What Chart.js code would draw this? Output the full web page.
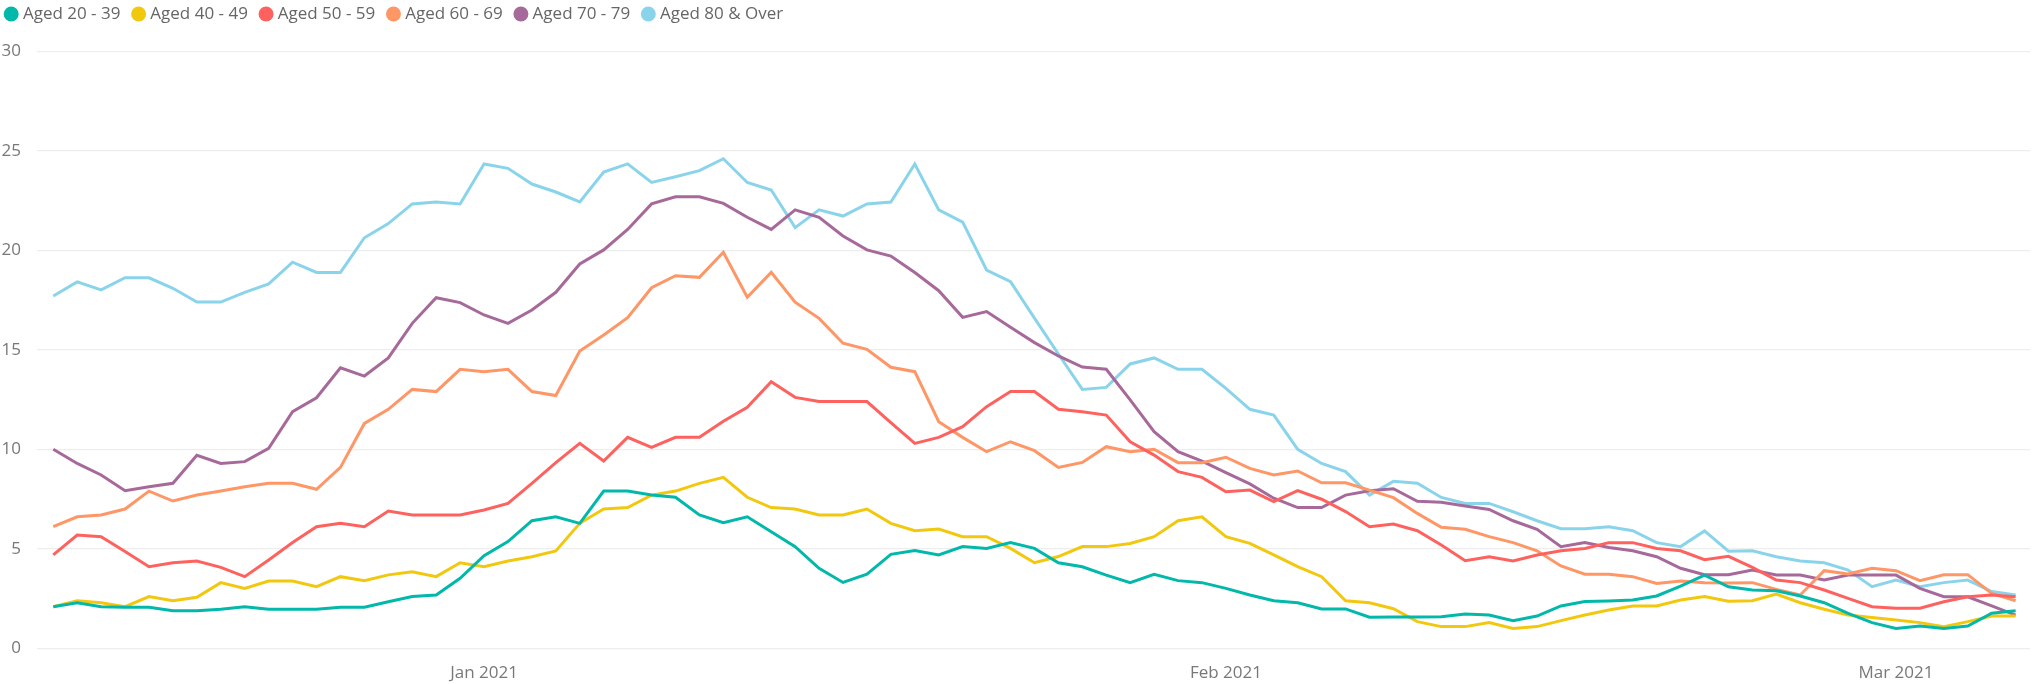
<!DOCTYPE html>
<html>
<head>
<meta charset="utf-8">
<title>Aged groups</title>
<script src="https://cdn.jsdelivr.net/npm/chart.js@4/dist/chart.umd.min.js"></script>
<style>
  body { margin: 0; background: #fff; }
</style>
</head>
<body>
<canvas id="chart" width="2038" height="684"></canvas>
<script>
// one point per day, 14 Dec 2020 - 6 Mar 2021
const firstDay = '2020-12-14';
const dayCount = 83;
const monthStarts = ['2021-01-01', '2021-02-01', '2021-03-01'];
const monthLabels = ['Jan 2021', 'Feb 2021', 'Mar 2021'];

const groupNames = ['Aged 20 - 39', 'Aged 40 - 49', 'Aged 50 - 59', 'Aged 60 - 69', 'Aged 70 - 79', 'Aged 80 & Over'];
const groupColors = ['#01B8AA', '#F2C80F', '#FD625E', '#FE9666', '#A66999', '#8AD4EB'];

const aged20to39 = [
  2.1, 2.3, 2.1, 2.07, 2.07, 1.9, 1.9, 1.97, 2.1, 1.97,
  1.97, 1.97, 2.07, 2.07, 2.35, 2.61, 2.69, 3.53, 4.66, 5.37,
  6.42, 6.62, 6.29, 7.91, 7.91, 7.71, 7.6, 6.71, 6.32, 6.62,
  5.87, 5.12, 4.03, 3.32, 3.73, 4.73, 4.92, 4.7, 5.12, 5.03,
  5.32, 5.03, 4.31, 4.11, 3.69, 3.31, 3.73, 3.41, 3.31, 3.02,
  2.69, 2.4, 2.3, 1.99, 1.99, 1.57, 1.58, 1.58, 1.6, 1.73,
  1.68, 1.4, 1.63, 2.14, 2.36, 2.39, 2.44, 2.64, 3.14, 3.69,
  3.1, 2.94, 2.9, 2.64, 2.3, 1.77, 1.3, 1.01, 1.13, 1.01,
  1.13, 1.77, 1.9
];
const aged40to49 = [
  2.1, 2.4, 2.3, 2.1, 2.61, 2.4, 2.57, 3.31, 3.02, 3.39,
  3.39, 3.11, 3.61, 3.41, 3.7, 3.86, 3.61, 4.31, 4.11, 4.4,
  4.61, 4.9, 6.29, 7.01, 7.08, 7.71, 7.91, 8.3, 8.6, 7.6,
  7.08, 7.01, 6.71, 6.71, 7.01, 6.29, 5.92, 6.0, 5.62, 5.62,
  5.03, 4.31, 4.62, 5.12, 5.12, 5.28, 5.62, 6.42, 6.62, 5.62,
  5.28, 4.7, 4.11, 3.61, 2.4, 2.3, 2.0, 1.35, 1.1, 1.1,
  1.3, 1.01, 1.1, 1.4, 1.68, 1.93, 2.14, 2.14, 2.44, 2.61,
  2.38, 2.4, 2.74, 2.3, 1.97, 1.68, 1.56, 1.43, 1.3, 1.1,
  1.35, 1.63, 1.63
];
const aged50to59 = [
  4.7, 5.7, 5.62, 4.87, 4.11, 4.31, 4.4, 4.08, 3.61, 4.45,
  5.33, 6.12, 6.29, 6.12, 6.91, 6.71, 6.71, 6.71, 6.96, 7.29,
  8.3, 9.34, 10.31, 9.42, 10.61, 10.11, 10.61, 10.61, 11.42, 12.12,
  13.41, 12.62, 12.41, 12.41, 12.41, 11.35, 10.31, 10.61, 11.15, 12.15,
  12.91, 12.91, 12.02, 11.9, 11.73, 10.39, 9.72, 8.89, 8.6, 7.88,
  7.96, 7.38, 7.93, 7.5, 6.88, 6.12, 6.25, 5.92, 5.2, 4.41,
  4.61, 4.4, 4.7, 4.91, 5.03, 5.32, 5.32, 5.03, 4.91, 4.46,
  4.63, 4.08, 3.44, 3.31, 2.94, 2.52, 2.1, 2.02, 2.02, 2.35,
  2.6, 2.69, 2.6
];
const aged60to69 = [
  6.12, 6.62, 6.71, 7.01, 7.91, 7.41, 7.71, 7.91, 8.13, 8.3,
  8.3, 8.0, 9.1, 11.31, 12.02, 13.02, 12.91, 14.03, 13.91, 14.03,
  12.91, 12.71, 14.95, 15.75, 16.62, 18.13, 18.73, 18.65, 19.91, 17.65,
  18.9, 17.4, 16.59, 15.34, 15.03, 14.13, 13.91, 11.4, 10.61, 9.89,
  10.39, 9.94, 9.1, 9.35, 10.14, 9.89, 10.01, 9.34, 9.34, 9.61,
  9.05, 8.72, 8.92, 8.33, 8.33, 7.96, 7.58, 6.79, 6.09, 5.99,
  5.62, 5.32, 4.91, 4.15, 3.73, 3.73, 3.61, 3.27, 3.39, 3.31,
  3.29, 3.31, 2.97, 2.69, 3.91, 3.74, 4.03, 3.91, 3.41, 3.71,
  3.71, 2.77, 2.4
];
const aged70to79 = [
  10.01, 9.3, 8.72, 7.93, 8.13, 8.3, 9.71, 9.3, 9.39, 10.06,
  11.9, 12.6, 14.11, 13.69, 14.6, 16.34, 17.63, 17.38, 16.76, 16.34,
  17.01, 17.9, 19.32, 20.03, 21.06, 22.34, 22.7, 22.7, 22.37, 21.67,
  21.06, 22.04, 21.67, 20.73, 20.03, 19.72, 18.89, 17.98, 16.64, 16.93,
  16.14, 15.37, 14.7, 14.14, 14.03, 12.49, 10.9, 9.89, 9.42, 8.84,
  8.27, 7.55, 7.08, 7.08, 7.71, 7.93, 8.03, 7.4, 7.35, 7.16,
  6.99, 6.42, 5.99, 5.12, 5.32, 5.08, 4.91, 4.61, 4.03, 3.71,
  3.71, 3.94, 3.69, 3.69, 3.44, 3.69, 3.69, 3.69, 3.02, 2.6,
  2.6, 2.14, 1.68
];
const aged80plus = [
  17.71, 18.42, 18.02, 18.63, 18.63, 18.1, 17.41, 17.41, 17.9, 18.32,
  19.41, 18.9, 18.9, 20.64, 21.35, 22.34, 22.44, 22.34, 24.35, 24.13,
  23.34, 22.94, 22.44, 23.94, 24.35, 23.42, 23.71, 24.01, 24.61, 23.42,
  23.04, 21.15, 22.04, 21.73, 22.34, 22.44, 24.35, 22.04, 21.43, 19.02,
  18.43, 16.6, 14.8, 13.02, 13.12, 14.3, 14.6, 14.03, 14.03, 13.07,
  12.02, 11.73, 10.01, 9.3, 8.89, 7.71, 8.4, 8.31, 7.59, 7.29,
  7.29, 6.87, 6.42, 6.02, 6.02, 6.12, 5.92, 5.32, 5.12, 5.91,
  4.89, 4.91, 4.61, 4.4, 4.31, 3.94, 3.11, 3.44, 3.11, 3.31,
  3.44, 2.86, 2.69
];
const groupValues = [aged20to39, aged40to49, aged50to59, aged60to69, aged70to79, aged80plus];

// day strings for the x positions
const days = [];
for (let i = 0; i < dayCount; i++) {
  let d = new Date(firstDay + 'T00:00:00Z');
  d.setUTCDate(d.getUTCDate() + i);
  days.push(d.toISOString().slice(0, 10));
}

Chart.defaults.font.family = "'Open Sans', sans-serif";
Chart.defaults.font.size = 17;
Chart.defaults.color = '#787878';

// push the plot area down below the legend
const legendGap = {
  id: 'legendGap',
  beforeInit(chart) {
    const fit = chart.legend.fit;
    chart.legend.fit = function () {
      fit.call(this);
      this.height += 19;
    };
  }
};

let ctx = document.getElementById('chart').getContext('2d');

let chart = new Chart(ctx, {
    type: 'line',
    data: {
        datasets: groupNames.map((name, g) => ({
            label: name,
            data: groupValues[g].map((v, i) => ({x: i, y: v})),
            borderColor: groupColors[g],
            backgroundColor: groupColors[g],
            borderWidth: 3,
            pointRadius: 0,
            tension: 0,
        })),
    },
    options: {
        responsive: false,
        devicePixelRatio: 1,
        animation: false,
        layout: {
            padding: { left: -7, top: -9.5, right: 8, bottom: 0 }
        },
        plugins: {
            legend: {
                display: true,
                position: 'top',
                align: 'start',
                labels: {
                    usePointStyle: true,
                    pointStyle: 'circle',
                    boxWidth: 6.4,
                    boxHeight: 10.6,
                    padding: 15,
                    color: '#666666',
                    generateLabels: chart => Chart.defaults.plugins.legend.labels.generateLabels(chart)
                        .map(item => Object.assign(item, { lineWidth: 0 })),
                }
            },
            tooltip: { enabled: false },
        },
        scales: {
            x: {
                type: 'linear',
                min: -0.68,
                max: 82.6,
                grid: { display: false },
                border: { display: false },
                afterBuildTicks: scale => {
                    scale.ticks = monthStarts.map(d => ({ value: days.indexOf(d) }));
                },
                afterFit: scale => { scale.height = 35.5; },
                ticks: {
                    maxRotation: 0,
                    minRotation: 0,
                    autoSkip: false,
                    padding: 6,
                    callback: value => monthLabels[monthStarts.indexOf(days[value])],
                }
            },
            y: {
                min: 0,
                max: 30,
                grid: { color: '#ededed', lineWidth: 1.3, drawTicks: false },
                border: { display: false },
                afterFit: scale => { scale.width = 44; },
                ticks: {
                    stepSize: 5,
                    padding: 16,
                }
            }
        }
    },
    plugins: [legendGap]
});
</script>
</body>
</html>
